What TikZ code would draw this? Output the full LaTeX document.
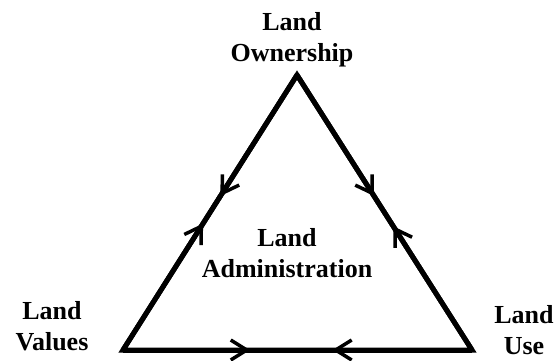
\documentclass[tikz,border=0pt]{standalone}
\usepackage{fontspec}
\setmainfont{Liberation Serif}
\usetikzlibrary{arrows.meta}
\usetikzlibrary{decorations.markings}

\begin{document}
\begin{tikzpicture}[
    x=1bp, y=-1bp,
    % 文字样式
    label style/.style={
        align=center,        % 居中
        inner sep=0pt,
        font=\fontsize{26bp}{31bp}\selectfont\bfseries
    },
    % 三角形边样式
    side style/.style={
        draw,
        line width=5bp,      % 粗线
        line join=miter
    },
    % 边上的两个箭头
    side arrows/.style 2 args={
        postaction={decorate},
        decoration={markings,
            mark=at position #1 with {\arrow{Straight Barb[length=16bp,width=20bp,line width=3.5bp]}},
            mark=at position #2 with {\arrowreversed{Straight Barb[length=16bp,width=20bp,line width=3.5bp]}}
        }
    }
]
\useasboundingbox (0,0) rectangle (554,360);

% 三角形顶点
\coordinate (ownership corner) at (297,75);
\coordinate (values corner) at (123,350);
\coordinate (use corner) at (472,350);

% 标签
\node[label style] (ownership) at (292,40) {Land\\Ownership};
\node[label style] (admin) at (287,253) {Land\\Administration};
\node[label style] (values) at (52,326) {Land\\Values};
\node[label style] (use) at (524,330) {Land\\Use};

% 三角形
\draw[side style] (values corner) -- (ownership corner) -- (use corner) -- cycle;

% 箭头
\draw[side style, side arrows={0.46}{0.56}] (values corner) -- (ownership corner);
\draw[side style, side arrows={0.45}{0.56}] (use corner) -- (ownership corner);
\draw[side style, side arrows={0.364}{0.60}] (values corner) -- (use corner);

\end{tikzpicture}
\end{document}
